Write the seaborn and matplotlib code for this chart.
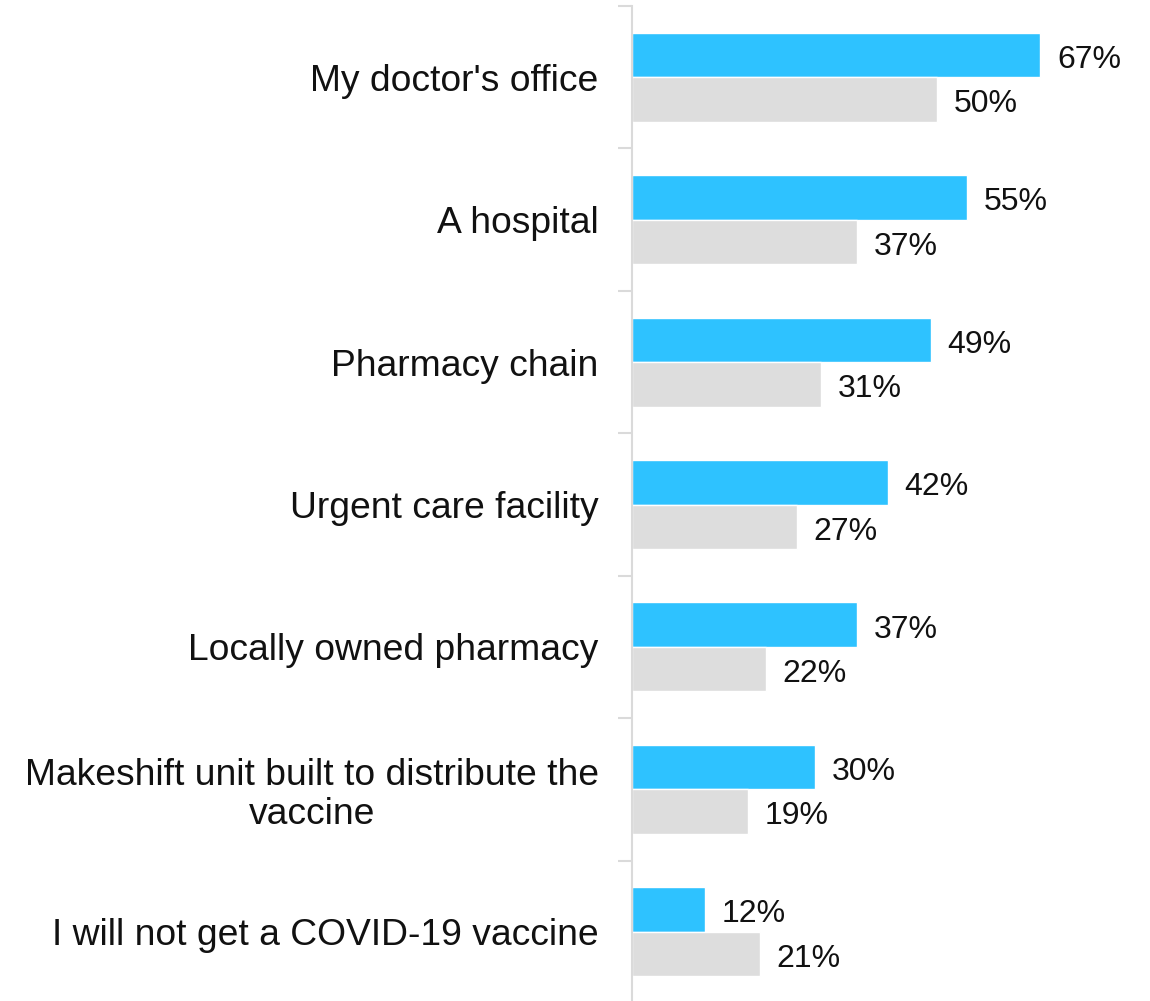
import pandas as pd
import seaborn as sns
import matplotlib.pyplot as plt
from matplotlib.ticker import FixedLocator

# Chart data
categories = [
    "My doctor's office",
    "A hospital",
    "Pharmacy chain",
    "Urgent care facility",
    "Locally owned pharmacy",
    "Makeshift unit built to distribute the\nvaccine",
    "I will not get a COVID-19 vaccine",
]
series_names = ["Series A", "Series B"]
values_a = [67, 55, 49, 42, 37, 30, 12]
values_b = [50, 37, 31, 27, 22, 19, 21]

df = pd.DataFrame({
    "category": categories * 2,
    "series": [series_names[0]] * len(categories) + [series_names[1]] * len(categories),
    "value": values_a + values_b,
})

sns.set_style("white")
plt.rcParams["font.family"] = ["Liberation Sans", "DejaVu Sans"]

fig = plt.figure(figsize=(11.5, 10.01), dpi=100)
ax = fig.add_axes([632 / 1150, -2 / 1001, 518 / 1150, 997 / 1001])

sns.barplot(data=df, x="value", y="category", hue="series", order=categories,
            hue_order=series_names, palette=["#2EC2FF", "#DDDDDD"],
            saturation=1, width=0.625, orient="h", legend=False, ax=ax)

ax.set_xlim(0, 85)
ax.set_ylim(len(categories) - 0.5, -0.5)
ax.set_xlabel("")
ax.set_ylabel("")
ax.set_xticks([])

# value labels, nudged down a bit like the original
for cont in ax.containers:
    anns = ax.bar_label(cont, labels=[f"{v:.0f}%" for v in cont.datavalues],
                        padding=12, fontsize=23, color="#111111")
    for a in anns:
        a.xyann = (12, -3.5)

for s in ["top", "right", "bottom"]:
    ax.spines[s].set_visible(False)
ax.spines["left"].set_color("#DADADA")
ax.spines["left"].set_linewidth(1.5)

ax.tick_params(axis="y", which="major", left=False, length=0, pad=24,
               labelsize=26.8, labelcolor="#111111")
ax.yaxis.set_minor_locator(FixedLocator([i - 0.5 for i in range(len(categories) + 1)]))
ax.tick_params(axis="y", which="minor", left=True, length=10, width=1.5,
               color="#DADADA")
for lbl in ax.get_yticklabels():
    lbl.set_horizontalalignment("right")
    lbl.set_multialignment("center")
    lbl.set_linespacing(1.15)

fig.savefig("out.png", dpi=100)
